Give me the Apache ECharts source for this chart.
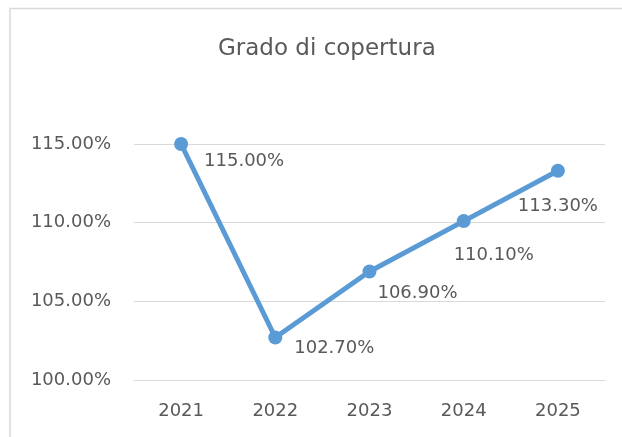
<!DOCTYPE html>
<html>
<head>
<meta charset="utf-8">
<script src="https://cdn.jsdelivr.net/npm/echarts@6/dist/echarts.min.js"></script>
<style>
html,body{margin:0;padding:0;background:#fff;overflow:hidden;}
#c{width:622px;height:437px;}
</style>
</head>
<body>
<div id="c"></div>
<script>
var titleText = "Grado di copertura";
var categories = ["2021", "2022", "2023", "2024", "2025"];
var values = [115.0, 102.7, 106.9, 110.1, 113.3];
var yMin = 100, yMax = 115, yStep = 5;
var labelOffsets = [[63, 17], [59, 11], [48, 22], [30, 34], [0, 36]];

var font = "DejaVu Sans";
var textColor = "#595959";
var chart = echarts.init(document.getElementById('c'), null, {renderer: 'canvas'});
chart.setOption({
  animation: false,
  backgroundColor: '#ffffff',
  graphic: [{
    type: 'polyline', silent: true,
    shape: {points: [[10, 437], [10, 8.5], [622, 8.5]]},
    style: {fill: null, stroke: '#D9D9D9', lineWidth: 1.5}
  }],
  title: {
    text: titleText, left: 213, top: 33,
    textStyle: {fontFamily: font, fontSize: 23, fontWeight: 'normal', color: textColor}
  },
  grid: {left: 134, right: 17, top: 144, bottom: 57},
  xAxis: {
    type: 'category', data: categories, boundaryGap: true,
    axisLine: {show: true, lineStyle: {color: '#D9D9D9', width: 1}},
    axisTick: {show: false},
    axisLabel: {fontFamily: font, fontSize: 18, color: textColor, margin: 22}
  },
  yAxis: {
    type: 'value', min: yMin, max: yMax, interval: yStep,
    axisLine: {show: false}, axisTick: {show: false},
    splitLine: {lineStyle: {color: '#D9D9D9', width: 1}},
    axisLabel: {fontFamily: font, fontSize: 18, color: textColor, margin: 23,
      formatter: function (v) { return v.toFixed(2) + '%'; }}
  },
  series: [{
    type: 'line',
    data: values.map(function (v, i) {
      return {value: v, label: {offset: labelOffsets[i]}};
    }),
    symbol: 'circle', symbolSize: 14,
    lineStyle: {color: '#5B9BD5', width: 5},
    itemStyle: {color: '#5B9BD5', borderWidth: 0},
    label: {
      show: true, position: 'inside',
      fontFamily: font, fontSize: 18, color: textColor,
      formatter: function (p) { return p.value.toFixed(2) + '%'; }
    }
  }]
});
</script>
</body>
</html>
